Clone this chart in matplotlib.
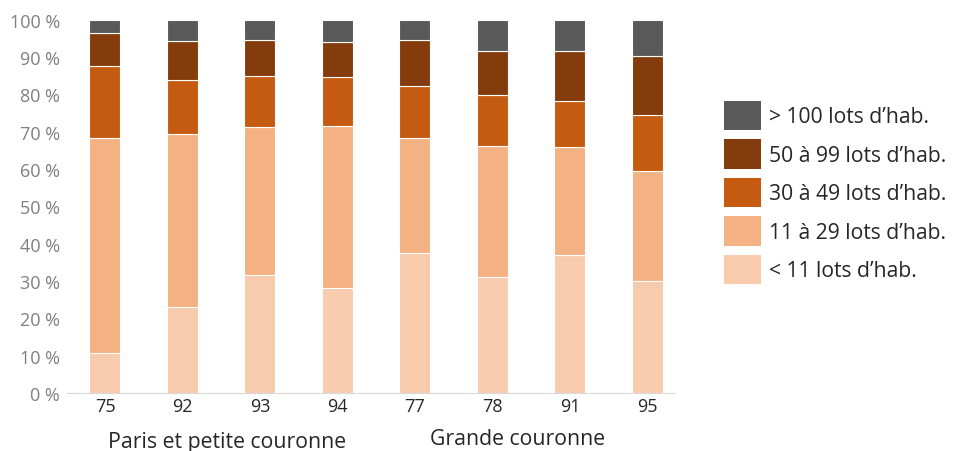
import numpy as np
import matplotlib.pyplot as plt
from matplotlib.patches import Patch

# départements et tranches de taille (en % des copropriétés)
depts = ['75', '92', '93', '94', '77', '78', '91', '95']
moins_11 = [10.7, 23.0, 31.6, 28.1, 37.5, 31.1, 37.1, 30.1]
de_11_29 = [57.6, 46.4, 39.6, 43.3, 30.9, 35.2, 28.8, 29.5]
de_30_49 = [19.2, 14.4, 13.6, 13.2, 13.8, 13.5, 12.3, 14.9]
de_50_99 = [9.0, 10.6, 9.8, 9.5, 12.4, 11.9, 13.5, 15.9]
plus_100 = [3.5, 5.6, 5.4, 5.9, 5.4, 8.3, 8.3, 9.6]

series = [moins_11, de_11_29, de_30_49, de_50_99, plus_100]
labels = ['< 11 lots d\u2019hab.', '11 à 29 lots d\u2019hab.', '30 à 49 lots d\u2019hab.',
          '50 à 99 lots d\u2019hab.', '> 100 lots d\u2019hab.']
couleurs = ['#F8CBAD', '#F4B183', '#C55A11', '#843C0C', '#595959']

plt.rcParams['font.family'] = ['Open Sans', 'DejaVu Sans']

fig = plt.figure(figsize=(9.56, 4.52), dpi=100)
ax = fig.add_axes([67 / 956, 58 / 452, 608 / 956, 373.3 / 452])

x = np.arange(len(depts))
bas = np.zeros(len(depts))
for vals, c in zip(series, couleurs):
    ax.bar(x, vals, width=0.4, bottom=bas, color=c, edgecolor='white', linewidth=0.8)
    bas += np.array(vals)

ax.set_ylim(0, 100)
ax.set_xlim(-0.49, 7.355)
ax.set_yticks(range(0, 101, 10))
ax.set_yticklabels([f'{v} %' for v in range(0, 101, 10)], color='#808080', fontsize=13)
ax.set_xticks(x)
ax.set_xticklabels(depts, color='#262626', fontsize=13)
ax.tick_params(length=0, axis='both')
ax.tick_params(axis='y', pad=5)
ax.tick_params(axis='x', pad=3)
for s in ['top', 'right', 'left']:
    ax.spines[s].set_visible(False)
ax.spines['bottom'].set_color('#d9d9d9')

# groupes de départements
ax.text(1.575, -12.9, 'Paris et petite couronne', ha='center', va='center',
        fontsize=15.3, color='#262626')
ax.text(5.33, -12.3, 'Grande couronne', ha='center', va='center',
        fontsize=15.3, color='#262626')

poignees = [Patch(facecolor=c, edgecolor='none') for c in couleurs][::-1]
fig.legend(poignees, labels[::-1], loc='upper left', bbox_to_anchor=(724 / 956, 1 - 102 / 452),
           frameon=False, fontsize=15.2, borderpad=0, borderaxespad=0,
           handlelength=1.76, handleheight=1.76, labelspacing=0.43,
           handletextpad=0.38, labelcolor='#262626')

fig.savefig('out.png', dpi=100)
